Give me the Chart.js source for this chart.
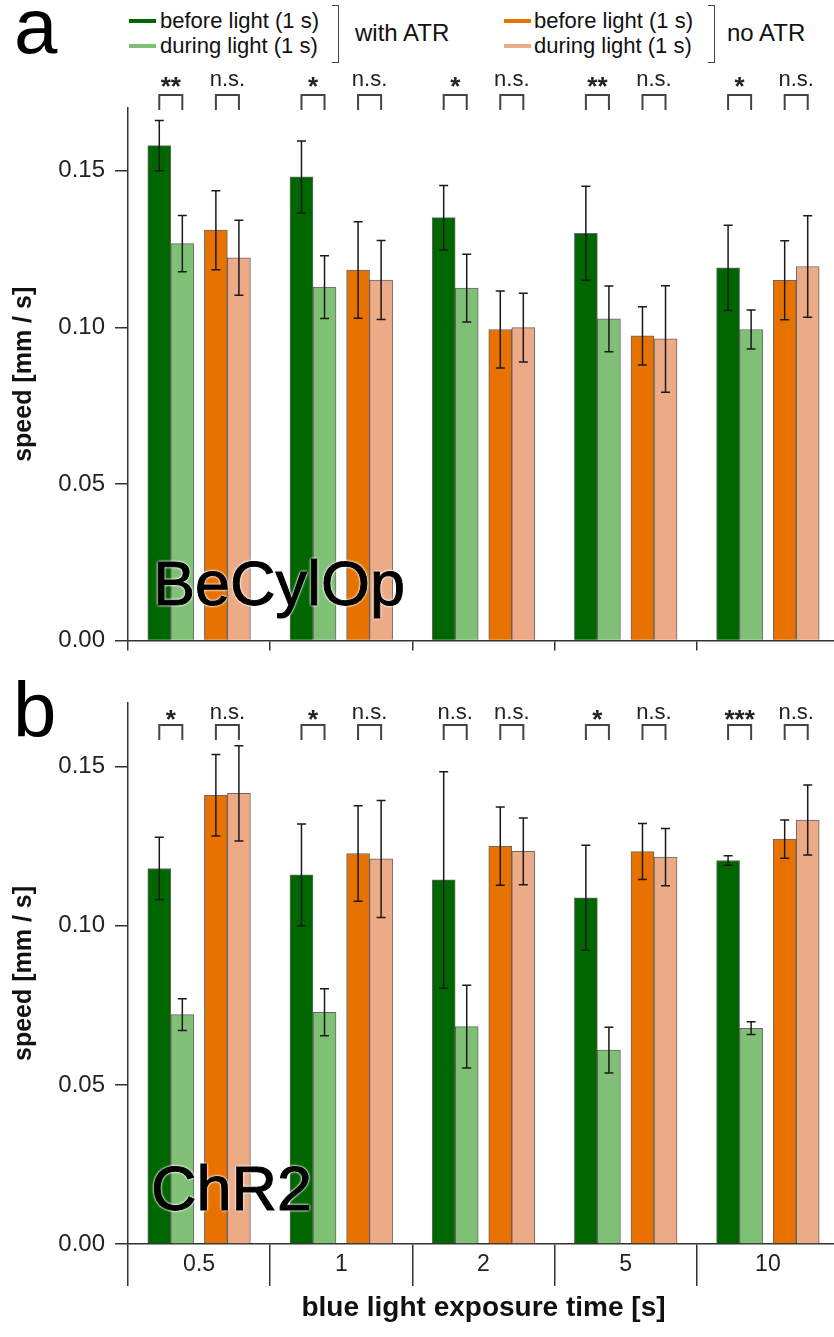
<!DOCTYPE html>
<html>
<head>
<meta charset="utf-8">
<title>speed before / during blue light</title>
<script src="https://cdn.jsdelivr.net/npm/chart.js@4.4.1/dist/chart.umd.min.js"></script>
<style>
  html, body { margin: 0; padding: 0; background: #fff; overflow: hidden; }
  body { width: 834px; height: 1337px; position: relative; font-family: "Liberation Sans", Arial, sans-serif; color: #111; }
  canvas { position: absolute; left: 0; }
  #chartA { top: 0; }
  #chartB { top: 665px; }
  .panel { position: absolute; font-size: 78px; line-height: 78px; color: #000; }
  .construct { position: absolute; font-size: 63px; line-height: 63px; color: #000; z-index: 3;
    text-shadow: 0 0 2px #fff, 0 0 2px #fff, 0 0 3px #fff, 0 0 3px #fff; -webkit-text-stroke: 1px #000; }
  .leg-line { position: absolute; width: 27px; height: 4px; }
  .leg-text { position: absolute; font-size: 22px; line-height: 24px; color: #111; white-space: nowrap; }
  .leg-brace { position: absolute; width: 6px; height: 56px; border: 1.5px solid #444; border-left: none; }
  .leg-group { position: absolute; font-size: 24px; line-height: 28px; color: #111; white-space: nowrap; }
</style>
</head>
<body>

<div class="panel" style="left:14px; top:-13px;">a</div>
<div class="panel" style="left:13px; top:671px;">b</div>

<!-- legend -->
<div class="leg-line" style="left:129px; top:19px; background:#006600;"></div>
<div class="leg-line" style="left:129px; top:44px; background:#80c076;"></div>
<div class="leg-text" style="left:160px; top:9px;">before light (1 s)</div>
<div class="leg-text" style="left:160px; top:34px;">during light (1 s)</div>
<div class="leg-brace" style="left:332px; top:5px;"></div>
<div class="leg-group" style="left:355px; top:19px;">with ATR</div>

<div class="leg-line" style="left:504px; top:19px; background:#e87200;"></div>
<div class="leg-line" style="left:504px; top:44px; background:#ecab86;"></div>
<div class="leg-text" style="left:534px; top:9px;">before light (1 s)</div>
<div class="leg-text" style="left:534px; top:34px;">during light (1 s)</div>
<div class="leg-brace" style="left:708px; top:5px;"></div>
<div class="leg-group" style="left:727px; top:19px;">no ATR</div>

<canvas id="chartA" width="845" height="665"></canvas>
<canvas id="chartB" width="845" height="672"></canvas>

<div class="construct" style="left:153px; top:552px;">BeCylOp</div>
<div class="construct" style="left:151px; top:1157px;">ChR2</div>

<script>
// categories (blue light exposure time, s)
var categories = ['0.5', '1', '2', '5', '10'];

// panel a - BeCylOp
var aBeforeATR      = [0.158, 0.148, 0.135, 0.130, 0.119];
var aBeforeATRErr   = [0.008, 0.0115, 0.0103, 0.015, 0.0136];
var aDuringATR      = [0.1267, 0.1128, 0.1125, 0.1027, 0.0993];
var aDuringATRErr   = [0.009, 0.010, 0.0108, 0.0105, 0.0062];
var aBeforeNoATR    = [0.131, 0.1183, 0.0993, 0.0973, 0.115];
var aBeforeNoATRErr = [0.0126, 0.0154, 0.0123, 0.0093, 0.0126];
var aDuringNoATR    = [0.1222, 0.1151, 0.0999, 0.0963, 0.1194];
var aDuringNoATRErr = [0.012, 0.0126, 0.011, 0.017, 0.0162];
var aSigATR   = ['**', '*', '*', '**', '*'];
var aSigNoATR = ['n.s.', 'n.s.', 'n.s.', 'n.s.', 'n.s.'];

// panel b - ChR2
var bBeforeATR      = [0.118, 0.116, 0.1144, 0.1088, 0.1205];
var bBeforeATRErr   = [0.0098, 0.016, 0.034, 0.0165, 0.0015];
var bDuringATR      = [0.0721, 0.0728, 0.0683, 0.0609, 0.0678];
var bDuringATRErr   = [0.005, 0.0074, 0.013, 0.0072, 0.002];
var bBeforeNoATR    = [0.141, 0.1227, 0.125, 0.1233, 0.1272];
var bBeforeNoATRErr = [0.0128, 0.015, 0.0123, 0.0088, 0.006];
var bDuringNoATR    = [0.1416, 0.121, 0.1234, 0.1216, 0.1332];
var bDuringNoATRErr = [0.015, 0.0184, 0.0105, 0.009, 0.011];
var bSigATR   = ['*', '*', 'n.s.', '*', '***'];
var bSigNoATR = ['n.s.', 'n.s.', 'n.s.', 'n.s.', 'n.s.'];

var yTicks = [0, 0.05, 0.10, 0.15];

// styling
var seriesColors = ['#006600', '#80c076', '#e87200', '#ecab86'];
var barOffsets = [-0.28, -0.118, 0.118, 0.28]; // position inside a category
var fontFamily = '"Liberation Sans", Arial, sans-serif';
var axisColor = '#333';

function buildDatasets(values, errors) {
  return values.map(function (vals, d) {
    return {
      data: vals.map(function (v, i) { return { x: i + barOffsets[d], y: v }; }),
      errors: errors[d],
      backgroundColor: seriesColors[d],
      borderColor: 'rgba(40,40,40,0.7)',
      borderWidth: 1,
      barThickness: 23,
      grouped: false,
      xAxisID: 'xb',
      yAxisID: 'y'
    };
  });
}

// error bars + significance brackets, drawn from the scales
function marksPlugin(sigATR, sigNoATR, bracketTop, textMid) {
  return {
    id: 'marks',
    afterDatasetsDraw: function (chart) {
      var ctx = chart.ctx;
      var y = chart.scales.y;
      ctx.save();
      ctx.strokeStyle = '#1a1a1a';
      ctx.lineWidth = 1.5;
      chart.data.datasets.forEach(function (ds, d) {
        var meta = chart.getDatasetMeta(d);
        meta.data.forEach(function (bar, i) {
          var v = ds.data[i].y, e = ds.errors[i];
          var top = y.getPixelForValue(v + e), bot = y.getPixelForValue(v - e);
          ctx.beginPath();
          ctx.moveTo(bar.x, top); ctx.lineTo(bar.x, bot);
          ctx.moveTo(bar.x - 4.5, top); ctx.lineTo(bar.x + 4.5, top);
          ctx.moveTo(bar.x - 4.5, bot); ctx.lineTo(bar.x + 4.5, bot);
          ctx.stroke();
        });
      });

      // brackets
      var t = chart.chartArea.top + bracketTop;
      var mid = chart.chartArea.top + textMid;
      ctx.strokeStyle = '#444';
      ctx.lineWidth = 2;
      ctx.fillStyle = '#222';
      ctx.textAlign = 'center';
      ctx.textBaseline = 'alphabetic';
      [[0, 1, sigATR], [2, 3, sigNoATR]].forEach(function (pair) {
        var m1 = chart.getDatasetMeta(pair[0]), m2 = chart.getDatasetMeta(pair[1]);
        m1.data.forEach(function (bar, i) {
          var x1 = bar.x, x2 = m2.data[i].x;
          ctx.beginPath();
          ctx.moveTo(x1, t + 15); ctx.lineTo(x1, t); ctx.lineTo(x2, t); ctx.lineTo(x2, t + 15);
          ctx.stroke();
          var label = pair[2][i];
          if (label.indexOf('*') >= 0) {
            ctx.font = 'bold 26px ' + fontFamily;
            ctx.fillText(label, (x1 + x2) / 2, mid + 15);
          } else {
            ctx.font = '22px ' + fontFamily;
            ctx.fillText(label, (x1 + x2) / 2, mid + 6);
          }
        });
      });
      ctx.restore();
    }
  };
}

function makePanel(canvasId, values, errors, sigATR, sigNoATR, p) {
  var ctx = document.getElementById(canvasId).getContext('2d');
  return new Chart(ctx, {
    type: 'bar',
    data: { labels: categories, datasets: buildDatasets(values, errors) },
    options: {
      responsive: false,
      animation: false,
      events: [],
      layout: { padding: { top: p.padTop, right: 6, left: 0, bottom: 0 } },
      plugins: { legend: { display: false }, tooltip: { enabled: false } },
      scales: {
        x: {
          type: 'category',
          offset: true,
          grid: { offset: true, drawOnChartArea: false, tickLength: p.xTickLen, color: axisColor, lineWidth: 1.5 },
          border: { color: axisColor, width: 1.5 },
          ticks: { display: p.showX, padding: -35, color: '#222', font: { family: fontFamily, size: 23 } },
          title: {
            display: p.showX, text: 'blue light exposure time [s]', color: '#111',
            font: { family: fontFamily, size: 28, weight: 'bold' }, padding: { top: 0, bottom: 12 }
          },
          afterFit: function (s) { s.height = p.xHeight; }
        },
        xb: { type: 'linear', display: false, offset: false, min: -0.5, max: 4.5 },
        y: {
          position: 'left',
          min: 0, max: 0.17,
          afterBuildTicks: function (s) { s.ticks = yTicks.map(function (v) { return { value: v }; }); },
          ticks: {
            color: '#222', padding: 10, font: { family: fontFamily, size: 24 },
            callback: function (v) { return v.toFixed(2); }
          },
          grid: { drawOnChartArea: false, tickLength: 13, color: axisColor, lineWidth: 1.5 },
          border: { color: axisColor, width: 1.5 },
          title: {
            display: true, text: 'speed [mm / s]', color: '#111',
            font: { family: fontFamily, size: 25, weight: 'bold' }, padding: { top: 9, bottom: 0 }
          },
          afterFit: function (s) { s.width = 128; }
        },
        yMinor: {
          position: 'left',
          min: 0, max: 0.17,
          ticks: { display: false, stepSize: 0.025, includeBounds: false },
          grid: { drawOnChartArea: false, tickLength: 8, color: axisColor, lineWidth: 1.5 },
          border: { display: false },
          afterFit: function (s) { s.width = 0; }
        }
      }
    },
    plugins: [marksPlugin(sigATR, sigNoATR, p.bracketTop, p.textMid)]
  });
}

makePanel('chartA',
  [aBeforeATR, aDuringATR, aBeforeNoATR, aDuringNoATR],
  [aBeforeATRErr, aDuringATRErr, aBeforeNoATRErr, aDuringNoATRErr],
  aSigATR, aSigNoATR,
  { padTop: 108, xTickLen: 10, showX: false, xHeight: 13, bracketTop: -13, textMid: -28 });

makePanel('chartB',
  [bBeforeATR, bDuringATR, bBeforeNoATR, bDuringNoATR],
  [bBeforeATRErr, bDuringATRErr, bBeforeNoATRErr, bDuringNoATRErr],
  bSigATR, bSigNoATR,
  { padTop: 38, xTickLen: 42, showX: true, xHeight: 93, bracketTop: 22, textMid: 10 });
</script>
</body>
</html>
